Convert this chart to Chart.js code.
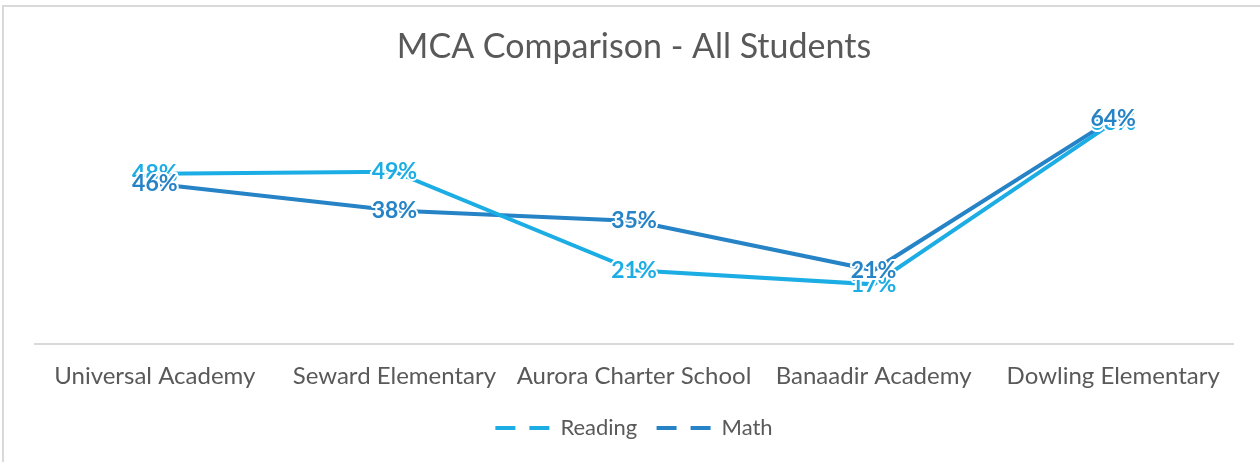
<!DOCTYPE html>
<html>
<head>
<meta charset="utf-8">
<script src="https://cdn.jsdelivr.net/npm/chart.js@4"></script>
<style>
  html, body { margin: 0; padding: 0; background: #fff; }
  #wrap { position: relative; width: 1260px; height: 462px; overflow: hidden; }
  #frame { position: absolute; left: 2px; top: 5px; right: -10px; bottom: -10px;
           border-left: 2px solid #d9d9d9; border-top: 2px solid #d9d9d9; }
  canvas { position: absolute; left: 0; top: 0; }
</style>
</head>
<body>
<div id="wrap">
  <div id="frame"></div>
  <canvas id="myChart" width="1260" height="462"></canvas>
</div>
<script>
// Dữ liệu biểu đồ (giá trị ước lượng từ hình, nhãn làm tròn)
const schools = ['Universal Academy', 'Seward Elementary', 'Aurora Charter School', 'Banaadir Academy', 'Dowling Elementary'];
const reading = [48.4, 49, 21, 17, 63];
const math = [45.6, 38, 35, 21, 64];

const lightBlue = '#1cade4';
const darkBlue = '#2683c6';
const grey = '#595959';
const fontFamily = 'Lato, "Open Sans", sans-serif';

// Vẽ nhãn giá trị có viền trắng
const valueLabels = {
    id: 'valueLabels',
    afterDatasetsDraw(chart) {
        const ctx = chart.ctx;
        ctx.save();
        ctx.font = 'bold 23px ' + fontFamily;
        ctx.textAlign = 'center';
        ctx.textBaseline = 'middle';
        ctx.lineJoin = 'round';
        chart.data.datasets.forEach((ds, i) => {
            const meta = chart.getDatasetMeta(i);
            meta.data.forEach((pt, j) => {
                const txt = Math.round(ds.data[j]) + '%';
                ctx.lineWidth = 4;
                ctx.strokeStyle = '#fff';
                ctx.strokeText(txt, pt.x, pt.y);
                ctx.fillStyle = ds.borderColor;
                ctx.fillText(txt, pt.x, pt.y);
            });
        });
        ctx.restore();
    }
};

const ctx = document.getElementById('myChart');
new Chart(ctx.getContext('2d'), {
    type: 'line',
    data: {
        labels: schools,
        datasets: [{
            label: 'Reading',
            data: reading,
            borderColor: lightBlue,
            backgroundColor: lightBlue,
            borderWidth: 4,
            pointRadius: 0,
            tension: 0
        }, {
            label: 'Math',
            data: math,
            borderColor: darkBlue,
            backgroundColor: darkBlue,
            borderWidth: 4,
            pointRadius: 0,
            tension: 0
        }]
    },
    options: {
        responsive: false,
        animation: false,
        layout: { padding: { left: 35, right: 27, top: 0, bottom: 13 } },
        plugins: {
            title: {
                display: true,
                text: 'MCA Comparison - All Students',
                color: grey,
                font: { family: fontFamily, size: 34, weight: 'normal' },
                padding: { top: 27, bottom: 30 }
            },
            legend: {
                display: true,
                position: 'bottom',
                labels: {
                    color: grey,
                    font: { family: fontFamily, size: 22 },
                    usePointStyle: true,
                    pointStyleWidth: 54,
                    boxHeight: 10,
                    padding: 8,
                    generateLabels(chart) {
                        return chart.data.datasets.map((ds, i) => ({
                            text: ds.label + (i === 0 ? '  ' : ''),
                            fillStyle: ds.borderColor,
                            strokeStyle: ds.borderColor,
                            lineWidth: 4,
                            lineDash: [20, 14],
                            pointStyle: 'line',
                            fontColor: grey,
                            datasetIndex: i
                        }));
                    }
                }
            },
            tooltip: { enabled: false }
        },
        scales: {
            x: {
                offset: true,
                grid: { display: false, drawTicks: false },
                border: { display: true, color: '#d9d9d9', width: 2 },
                ticks: {
                    color: grey,
                    padding: 18,
                    maxRotation: 0,
                    autoSkip: false,
                    font: { family: fontFamily, size: 24 }
                }
            },
            y: {
                display: false,
                min: 0,
                max: 70
            }
        }
    },
    plugins: [valueLabels]
});
</script>
</body>
</html>
